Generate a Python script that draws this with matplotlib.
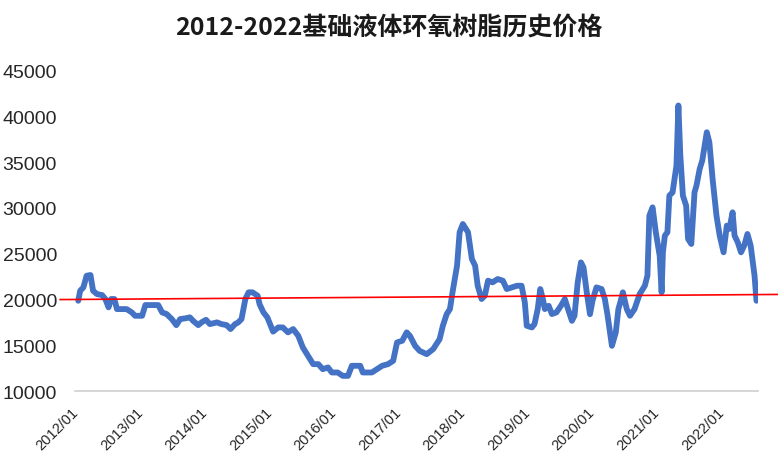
import matplotlib
matplotlib.use("Agg")
import matplotlib.pyplot as plt
from matplotlib.transforms import ScaledTranslation

plt.rcParams["font.family"] = ["Liberation Sans", "DejaVu Sans"]

TITLE = "2012-2022基础液体环氧树脂历史价格"

# 时间（十进制年份）与价格（元/吨）
time_years = [
    2012.00, 2012.03, 2012.08, 2012.13, 2012.19, 2012.23, 2012.29, 2012.37,
    2012.42, 2012.47, 2012.51, 2012.56, 2012.60, 2012.75, 2012.83, 2012.88,
    2012.99, 2013.04, 2013.24, 2013.30, 2013.37, 2013.45, 2013.52, 2013.58,
    2013.66, 2013.73, 2013.78, 2013.86, 2013.91, 2013.98, 2014.04, 2014.15,
    2014.22, 2014.30, 2014.36, 2014.43, 2014.48, 2014.53, 2014.59, 2014.64,
    2014.70, 2014.78, 2014.81, 2014.87, 2014.93, 2015.02, 2015.10, 2015.17,
    2015.25, 2015.33, 2015.41, 2015.48, 2015.56, 2015.64, 2015.72, 2015.79,
    2015.87, 2015.93, 2016.02, 2016.10, 2016.18, 2016.24, 2016.37, 2016.41,
    2016.55, 2016.63, 2016.71, 2016.80, 2016.88, 2016.94, 2017.02, 2017.09,
    2017.14, 2017.22, 2017.29, 2017.40, 2017.50, 2017.60, 2017.65, 2017.71,
    2017.76, 2017.80, 2017.87, 2017.91, 2017.96, 2018.04, 2018.10, 2018.15,
    2018.19, 2018.25, 2018.30, 2018.35, 2018.42, 2018.50, 2018.58, 2018.64,
    2018.72, 2018.80, 2018.87, 2018.92, 2018.95, 2019.03, 2019.07, 2019.12,
    2019.16, 2019.20, 2019.23, 2019.29, 2019.34, 2019.41, 2019.48, 2019.54,
    2019.59, 2019.65, 2019.69, 2019.74, 2019.79, 2019.83, 2019.88, 2019.93,
    2019.97, 2020.03, 2020.11, 2020.16, 2020.20, 2020.27, 2020.33, 2020.37,
    2020.40, 2020.44, 2020.50, 2020.55, 2020.62, 2020.70, 2020.78, 2020.82,
    2020.85, 2020.90, 2020.95, 2021.01, 2021.04, 2021.06, 2021.09, 2021.13,
    2021.16, 2021.21, 2021.27, 2021.30, 2021.33, 2021.37, 2021.42, 2021.45,
    2021.50, 2021.55, 2021.58, 2021.63, 2021.67, 2021.74, 2021.78, 2021.83,
    2021.89, 2021.94, 2022.00, 2022.05, 2022.09, 2022.14, 2022.17, 2022.22,
    2022.27, 2022.32, 2022.37, 2022.42, 2022.48, 2022.51,
]
prices = [
    19870, 20960, 21330, 22600, 22680, 20960, 20600, 20490,
    20060, 19150, 20060, 20060, 18960, 18960, 18600, 18230,
    18230, 19400, 19400, 18600, 18420, 17870, 17210, 17870,
    17950, 18060, 17680, 17210, 17510, 17790, 17320, 17510,
    17320, 17210, 16780, 17320, 17510, 17870, 20060, 20790,
    20790, 20420, 19500, 18600, 18060, 16500, 16960, 16960,
    16420, 16780, 16040, 14780, 13860, 12950, 12950, 12400,
    12590, 12040, 12040, 11670, 11670, 12770, 12770, 12040,
    12040, 12400, 12770, 12950, 13310, 15320, 15500, 16420,
    16040, 14950, 14400, 14040, 14590, 15680, 17140, 18420,
    18960, 20790, 23700, 27350, 28250, 27350, 24430, 23700,
    21510, 20060, 20420, 22060, 21880, 22240, 22060, 21150,
    21330, 21510, 21510, 19700, 17140, 16960, 17320, 18960,
    21150, 20060, 18960, 19320, 18420, 18600, 19320, 20060,
    18960, 17680, 18230, 21880, 24060, 23500, 20790, 18400,
    19900, 21330, 21150, 20060, 18400, 14950, 16420, 18960,
    19700, 20790, 18960, 18230, 18960, 20600, 21510, 22600,
    29160, 30070, 27350, 24790, 20790, 25160, 26980, 27350,
    31350, 31710, 34630, 41190, 35720, 31350, 30260, 26620,
    26070, 31710, 32440, 34270, 35180, 38270, 37170, 33170,
    29160, 26980, 25160, 28070, 27710, 29530, 26980, 26250,
    25160, 25890, 27160, 25890, 22600, 19870,
]

# 红色参考线两端
trend_years = [2011.72, 2022.84]
trend_values = [20000, 20560]

tick_years = list(range(2012, 2023))
tick_labels = [f"{y}/01" for y in tick_years]
y_ticks = [10000, 15000, 20000, 25000, 30000, 35000, 40000, 45000]

fig = plt.figure(figsize=(7.78, 4.56), dpi=100)
ax = fig.add_axes([0.0964, 0.140, 0.8776, 0.703])

ax.plot(time_years, prices, color="#4472C4", linewidth=4.2,
        solid_joinstyle="round", solid_capstyle="round", zorder=2)
ax.plot(trend_years, trend_values, color="#FF0000", linewidth=1.2,
        clip_on=False, zorder=3)

ax.set_xlim(2011.95, 2022.53)
ax.set_ylim(10000, 45000)

ax.set_yticks(y_ticks)
ax.set_yticklabels([str(v) for v in y_ticks], fontsize=14, color="#262626")
ax.set_xticks(tick_years)
ax.set_xticklabels(tick_labels, fontsize=10.5, color="#262626",
                   rotation=45, ha="right", va="top", rotation_mode="anchor")
ax.tick_params(axis="y", length=0, pad=13)
ax.tick_params(axis="x", length=0, pad=10)
offset = ScaledTranslation(-7 / 100, 0, fig.dpi_scale_trans)
for label in ax.get_xticklabels():
    label.set_transform(label.get_transform() + offset)

for side in ["top", "right", "left"]:
    ax.spines[side].set_visible(False)
ax.spines["bottom"].set_color("#D0D0D0")
ax.spines["bottom"].set_linewidth(1.2)

fig.text(0.5, 0.939, TITLE, ha="center", va="center", fontsize=18,
         fontweight="bold", color="#1a1a1a",
         family=["Noto Sans CJK SC", "DejaVu Sans"])

fig.savefig("out.png", dpi=100)
